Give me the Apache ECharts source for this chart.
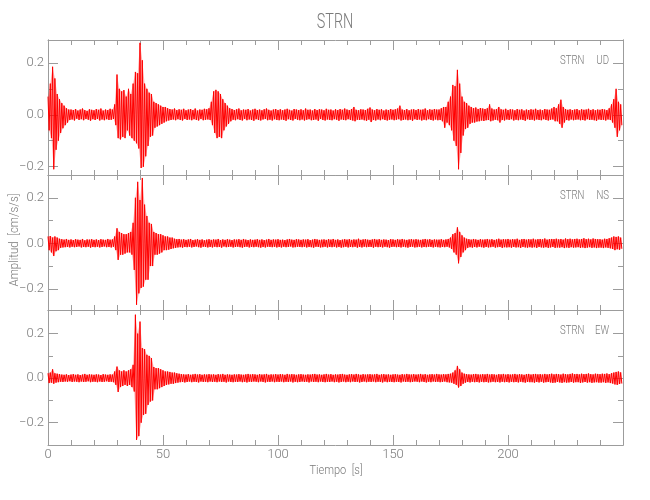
<!DOCTYPE html>
<html><head><meta charset="utf-8">
<script src="https://cdn.jsdelivr.net/npm/echarts@6/dist/echarts.min.js"></script>
<style>html,body{margin:0;padding:0;background:#fff}#c{width:650px;height:500px}</style>
</head><body><div id="c"></div>
<script>
// ---- DATA ----
// Envelope of each trace, one value per second (t = 0..249 s): upper excursion and lower excursion, cm/s/s
const UD_hi = [
.07,.12,.185,.14,.08,.06,.045,.035,.025,.02,
.02,.018,.022,.016,.02,.024,.018,.015,.021,.019,
.017,.022,.019,.024,.016,.02,.018,.023,.02,.04,
.155,.1,.09,.095,.07,.1,.08,.12,.165,.16,
.277,.21,.12,.1,.085,.08,.05,.045,.04,.035,
.03,.03,.025,.022,.02,.024,.018,.021,.019,.023,
.017,.02,.022,.018,.024,.016,.02,.019,.023,.021,
.025,.05,.09,.096,.09,.08,.06,.045,.035,.025,
.022,.018,.021,.024,.017,.02,.019,.022,.016,.02,
.023,.018,.02,.017,.021,.024,.019,.016,.02,.022,
.018,.021,.017,.02,.023,.019,.016,.022,.02,.018,
.021,.017,.024,.019,.02,.016,.022,.018,.021,.02,
.017,.023,.019,.02,.016,.021,.018,.022,.019,.024,
.02,.018,.022,.03,.019,.017,.021,.02,.018,.023,
.028,.02,.017,.022,.019,.021,.016,.02,.018,.022,
.019,.021,.024,.035,.02,.018,.022,.017,.02,.021,
.018,.022,.019,.02,.024,.017,.021,.019,.022,.02,
.02,.025,.03,.03,.05,.07,.115,.11,.173,.12,
.07,.05,.045,.035,.03,.025,.028,.022,.026,.024,
.022,.025,.04,.024,.02,.022,.03,.021,.019,.023,
.018,.021,.02,.017,.022,.019,.021,.016,.02,.018,
.021,.019,.023,.018,.02,.017,.022,.02,.019,.024,
.03,.025,.04,.058,.03,.022,.019,.021,.018,.02,
.022,.017,.021,.019,.02,.023,.018,.021,.017,.02,
.019,.022,.02,.018,.025,.04,.06,.1,.05,.04];
const UD_lo = [
-.06,-.09,-.21,-.135,-.1,-.07,-.052,-.04,-.03,-.02,
-.018,-.022,-.015,-.02,-.017,-.021,-.016,-.019,-.023,-.017,
-.02,-.016,-.022,-.018,-.021,-.017,-.02,-.019,-.016,-.04,
-.09,-.095,-.085,-.09,-.06,-.08,-.09,-.1,-.11,-.13,
-.205,-.2,-.16,-.12,-.085,-.08,-.05,-.045,-.04,-.035,
-.03,-.025,-.022,-.02,-.018,-.021,-.017,-.02,-.022,-.016,
-.02,-.018,-.021,-.017,-.02,-.022,-.016,-.021,-.019,-.018,
-.02,-.04,-.07,-.09,-.085,-.09,-.06,-.045,-.035,-.025,
-.019,-.021,-.017,-.02,-.022,-.016,-.021,-.018,-.02,-.023,
-.017,-.02,-.022,-.018,-.016,-.021,-.019,-.022,-.017,-.02,
-.021,-.018,-.02,-.023,-.017,-.02,-.022,-.016,-.019,-.021,
-.018,-.022,-.019,-.017,-.021,-.02,-.018,-.023,-.016,-.02,
-.022,-.018,-.02,-.021,-.017,-.019,-.023,-.018,-.02,-.021,
-.017,-.02,-.022,-.025,-.019,-.02,-.018,-.021,-.023,-.019,
-.028,-.02,-.022,-.018,-.021,-.017,-.02,-.022,-.019,-.018,
-.021,-.019,-.017,-.022,-.02,-.018,-.021,-.019,-.023,-.017,
-.02,-.018,-.022,-.019,-.021,-.017,-.02,-.022,-.018,-.021,
-.02,-.025,-.05,-.03,-.04,-.06,-.1,-.12,-.21,-.147,
-.08,-.055,-.05,-.035,-.03,-.03,-.026,-.025,-.022,-.024,
-.021,-.02,-.025,-.022,-.019,-.021,-.03,-.02,-.022,-.018,
-.02,-.017,-.022,-.019,-.021,-.018,-.02,-.023,-.017,-.02,
-.019,-.022,-.018,-.02,-.021,-.017,-.02,-.022,-.019,-.018,
-.025,-.025,-.035,-.05,-.03,-.02,-.022,-.018,-.021,-.019,
-.018,-.021,-.02,-.022,-.017,-.02,-.019,-.021,-.023,-.018,
-.02,-.019,-.022,-.018,-.02,-.03,-.05,-.085,-.06,-.04];
const NS_hi = [
.03,.032,.025,.03,.025,.02,.018,.016,.019,.015,
.017,.014,.018,.016,.015,.019,.013,.017,.016,.018,
.015,.017,.014,.018,.016,.015,.019,.016,.017,.03,
.066,.05,.045,.04,.04,.045,.05,.09,.2,.27,
.19,.287,.17,.12,.09,.085,.05,.045,.04,.04,
.035,.03,.03,.025,.025,.02,.018,.019,.016,.018,
.015,.017,.019,.014,.016,.018,.015,.017,.013,.016,
.018,.015,.017,.016,.019,.014,.017,.015,.018,.016,
.014,.017,.016,.018,.015,.019,.016,.014,.017,.015,
.016,.018,.015,.017,.014,.016,.019,.015,.017,.016,
.018,.015,.016,.014,.017,.019,.016,.015,.018,.017,
.015,.017,.016,.018,.014,.016,.019,.017,.015,.016,
.017,.015,.018,.016,.019,.015,.017,.014,.016,.018,
.016,.018,.015,.017,.016,.02,.015,.017,.018,.016,
.015,.017,.019,.016,.018,.015,.017,.016,.014,.018,
.017,.015,.018,.016,.019,.016,.015,.017,.018,.016,
.018,.016,.015,.017,.019,.016,.018,.015,.017,.016,
.016,.018,.015,.017,.019,.025,.04,.045,.07,.05,
.035,.025,.02,.018,.016,.019,.017,.015,.018,.016,
.017,.019,.016,.018,.015,.017,.02,.016,.018,.017,
.019,.016,.018,.017,.02,.015,.018,.019,.016,.018,
.017,.02,.016,.018,.019,.017,.021,.016,.018,.019,
.018,.02,.017,.019,.016,.021,.018,.02,.017,.019,
.02,.017,.019,.022,.018,.02,.017,.021,.019,.018,
.018,.016,.02,.019,.022,.025,.03,.028,.03,.025];
const NS_lo = [
-.03,-.04,-.056,-.035,-.03,-.02,-.018,-.017,-.016,-.018,
-.015,-.017,-.016,-.014,-.018,-.016,-.017,-.015,-.019,-.016,
-.017,-.015,-.018,-.016,-.014,-.017,-.016,-.018,-.015,-.03,
-.073,-.05,-.05,-.045,-.04,-.04,-.05,-.117,-.27,-.22,
-.196,-.19,-.16,-.16,-.1,-.1,-.05,-.05,-.045,-.04,
-.03,-.03,-.028,-.025,-.022,-.02,-.018,-.017,-.019,-.016,
-.017,-.015,-.018,-.016,-.014,-.017,-.019,-.015,-.016,-.018,
-.016,-.018,-.015,-.017,-.016,-.019,-.014,-.017,-.016,-.015,
-.018,-.016,-.015,-.017,-.019,-.016,-.015,-.018,-.016,-.017,
-.015,-.017,-.019,-.016,-.018,-.015,-.016,-.017,-.015,-.018,
-.016,-.018,-.015,-.017,-.016,-.014,-.018,-.017,-.015,-.016,
-.017,-.015,-.018,-.016,-.017,-.019,-.015,-.016,-.018,-.017,
-.015,-.018,-.016,-.017,-.015,-.018,-.016,-.019,-.017,-.015,
-.018,-.016,-.017,-.015,-.019,-.016,-.018,-.015,-.017,-.016,
-.016,-.019,-.015,-.017,-.016,-.018,-.015,-.017,-.019,-.016,
-.015,-.017,-.016,-.018,-.015,-.017,-.019,-.016,-.015,-.018,
-.017,-.015,-.018,-.016,-.017,-.015,-.016,-.018,-.015,-.017,
-.018,-.016,-.017,-.015,-.018,-.025,-.04,-.05,-.088,-.06,
-.04,-.03,-.02,-.017,-.019,-.016,-.018,-.015,-.017,-.019,
-.016,-.018,-.017,-.015,-.019,-.017,-.016,-.02,-.017,-.018,
-.017,-.019,-.016,-.018,-.017,-.02,-.016,-.018,-.019,-.017,
-.019,-.017,-.02,-.016,-.018,-.019,-.017,-.02,-.018,-.016,
-.02,-.018,-.019,-.017,-.021,-.018,-.02,-.017,-.019,-.018,
-.017,-.02,-.018,-.021,-.019,-.017,-.02,-.018,-.021,-.019,
-.019,-.021,-.018,-.02,-.022,-.025,-.03,-.026,-.028,-.024];
const EW_hi = [
.022,.025,.04,.022,.02,.018,.016,.015,.017,.014,
.016,.018,.015,.017,.014,.016,.019,.015,.017,.016,
.015,.017,.016,.014,.018,.016,.015,.017,.016,.03,
.052,.035,.03,.035,.03,.035,.04,.06,.285,.2,
.254,.135,.13,.105,.1,.09,.05,.045,.045,.04,
.035,.03,.03,.028,.025,.025,.022,.02,.018,.017,
.016,.018,.015,.017,.019,.016,.018,.015,.017,.016,
.018,.016,.017,.015,.018,.016,.019,.015,.017,.016,
.015,.017,.016,.018,.016,.015,.017,.019,.016,.018,
.017,.015,.018,.016,.017,.019,.015,.017,.016,.018,
.016,.018,.017,.015,.019,.016,.018,.017,.015,.017,
.018,.016,.015,.017,.016,.018,.019,.016,.017,.015,
.017,.019,.016,.018,.015,.017,.016,.018,.019,.016,
.015,.017,.018,.016,.019,.017,.015,.018,.016,.017,
.018,.016,.017,.019,.015,.017,.018,.016,.017,.015,
.017,.018,.016,.015,.018,.016,.019,.017,.016,.018,
.016,.017,.019,.016,.018,.015,.017,.018,.016,.019,
.017,.016,.018,.017,.019,.02,.025,.035,.055,.04,
.025,.02,.018,.017,.016,.018,.019,.017,.016,.018,
.017,.019,.016,.018,.017,.015,.018,.017,.019,.016,
.018,.016,.017,.019,.016,.018,.017,.015,.018,.019,
.016,.018,.019,.017,.018,.016,.019,.017,.018,.02,
.017,.019,.018,.016,.02,.018,.017,.019,.021,.018,
.019,.017,.02,.018,.019,.021,.018,.017,.02,.019,
.018,.02,.019,.021,.018,.022,.025,.028,.03,.026];
const EW_lo = [
-.022,-.02,-.025,-.02,-.018,-.016,-.017,-.015,-.016,-.014,
-.017,-.015,-.016,-.018,-.015,-.017,-.016,-.014,-.018,-.016,
-.016,-.018,-.015,-.017,-.016,-.014,-.017,-.016,-.018,-.03,
-.062,-.04,-.035,-.03,-.035,-.03,-.04,-.06,-.277,-.26,
-.2,-.165,-.16,-.12,-.105,-.1,-.05,-.05,-.045,-.04,
-.035,-.03,-.028,-.025,-.025,-.022,-.02,-.018,-.017,-.019,
-.017,-.015,-.018,-.016,-.017,-.019,-.015,-.017,-.016,-.018,
-.015,-.017,-.016,-.018,-.015,-.017,-.016,-.019,-.015,-.017,
-.018,-.016,-.017,-.015,-.018,-.016,-.019,-.016,-.017,-.015,
-.016,-.018,-.015,-.017,-.019,-.016,-.017,-.015,-.018,-.016,
-.017,-.015,-.018,-.016,-.017,-.015,-.019,-.016,-.018,-.017,
-.015,-.017,-.016,-.019,-.015,-.017,-.016,-.018,-.015,-.017,
-.018,-.016,-.017,-.015,-.018,-.016,-.019,-.017,-.015,-.018,
-.016,-.018,-.015,-.017,-.016,-.019,-.017,-.015,-.018,-.016,
-.017,-.015,-.018,-.016,-.017,-.019,-.015,-.018,-.016,-.017,
-.018,-.016,-.017,-.019,-.015,-.017,-.016,-.018,-.017,-.015,
-.016,-.018,-.015,-.017,-.019,-.016,-.018,-.015,-.017,-.016,
-.018,-.017,-.015,-.018,-.019,-.02,-.025,-.03,-.042,-.035,
-.025,-.02,-.017,-.019,-.016,-.018,-.017,-.019,-.016,-.018,
-.017,-.019,-.018,-.016,-.018,-.017,-.019,-.016,-.018,-.017,
-.019,-.016,-.018,-.017,-.019,-.016,-.018,-.02,-.017,-.018,
-.018,-.02,-.017,-.019,-.016,-.02,-.018,-.017,-.019,-.021,
-.02,-.017,-.019,-.021,-.018,-.02,-.019,-.017,-.02,-.018,
-.018,-.021,-.019,-.017,-.02,-.018,-.021,-.019,-.018,-.02,
-.02,-.018,-.021,-.019,-.022,-.024,-.028,-.03,-.026,-.024];

const stationName = 'STRN';
const components = ['UD', 'NS', 'EW'];
const traces = [[UD_hi, UD_lo], [NS_hi, NS_lo], [EW_hi, EW_lo]];
const yRanges = [[-0.232, 0.288], [-0.293, 0.300], [-0.300, 0.306]];
const xRange = [0, 250];
const xTickStep = 50;
const xTickLabels = [0, 50, 100, 150, 200];
const yMajorTicks = [-0.2, 0, 0.2];
const yMinorTicks = [-0.1, 0.1];
const titleText = 'STRN';
const xName = 'Tiempo  [s]';
const yName = 'Amplitud  [cm/s/s]';

// ---- STYLE / LAYOUT ----
const AX = '#9c9c9c', TX = '#7a7a7a';
const FF = "Roboto, 'Noto Sans', sans-serif";
const FW = 300;
const G_LEFT = 48, G_W = 575, G_H = 135, G_TOPS = [40, 175, 310];
const RED = '#ff0000';

const grid = [], xAxis = [], yAxis = [], series = [];
const lineStyle = {color: AX, width: 1};

components.forEach((comp, g) => {
  grid.push({left: G_LEFT, top: G_TOPS[g], width: G_W, height: G_H, containLabel: false});
  ['bottom', 'top'].forEach(pos => {
    const showLab = (g === 2 && pos === 'bottom');
    xAxis.push({
      type: 'value', gridIndex: g, position: pos, min: xRange[0], max: xRange[1], interval: xTickStep,
      axisLine: {show: true, onZero: false, lineStyle},
      axisTick: {show: true, inside: true, length: 10, lineStyle},
      minorTick: {show: true, splitNumber: 5, length: 5, lineStyle},
      splitLine: {show: false}, minorSplitLine: {show: false},
      axisLabel: showLab ? {show: true, customValues: xTickLabels, margin: 3, color: TX, fontSize: 13, fontWeight: FW, fontFamily: FF} : {show: false}
    });
  });
  const r = yRanges[g];
  const mk = (pos, ticks, len, lab) => ({
    type: 'value', gridIndex: g, position: pos, min: r[0], max: r[1],
    axisLine: {show: true, onZero: false, lineStyle},
    axisTick: {show: true, inside: true, length: len, customValues: ticks, lineStyle},
    splitLine: {show: false},
    axisLabel: lab ? {show: true, customValues: ticks, margin: 4, color: TX, fontSize: 13, fontWeight: FW, fontFamily: FF,
      formatter: v => (v < 0 ? '\u2212' : '') + Math.abs(v).toFixed(1)} : {show: false}
  });
  yAxis.push(mk('left', yMajorTicks, 10, true));
  yAxis.push(mk('left', yMinorTicks, 5, false));
  yAxis.push(mk('right', yMajorTicks, 10, false));
  yAxis.push(mk('right', yMinorTicks, 5, false));

  const [hi, lo] = traces[g];
  const zig = [], upper = [], lower = [];
  for (let i = 0; i < hi.length; i++) {
    zig.push([i, hi[i]]);
    zig.push([i + 0.5, lo[i]]);
    upper.push([i, hi[i]]);
    lower.push([i + 0.5, lo[i]]);
  }
  const area = d => ({
    type: 'line', xAxisIndex: g * 2, yAxisIndex: g * 4, data: d, symbol: 'none', showSymbol: false,
    lineStyle: {width: 0, color: RED}, areaStyle: {color: RED, opacity: 0.3, origin: 0},
    silent: true, clip: true
  });
  series.push(area(upper));
  series.push(area(lower));
  series.push({
    type: 'line', xAxisIndex: g * 2, yAxisIndex: g * 4, data: zig, symbol: 'none', showSymbol: false,
    lineStyle: {color: RED, width: 1}, silent: true, clip: true
  });
});

const txt = (x, y, text, size, align, sx, rot) => ({
  type: 'text', x, y, rotation: rot || 0, scaleX: sx, scaleY: 1,
  style: {text, fill: TX, font: FW + ' ' + size + 'px ' + FF, textAlign: align, textVerticalAlign: 'middle'}
});
const graphic = [
  txt(335, 23, titleText, 20, 'center', 0.72),
  txt(336, 471, xName, 13, 'center', 0.85),
  txt(15, 240, yName, 13, 'center', 0.88, Math.PI / 2)
];
const labelY = [61, 196, 331];
components.forEach((comp, g) => {
  graphic.push(txt(560, labelY[g], stationName, 13, 'left', 0.74));
  graphic.push(txt(609, labelY[g], comp, 13, 'right', 0.74));
});

const chart = echarts.init(document.getElementById('c'), null, {renderer: 'canvas'});
chart.setOption({animation: false, backgroundColor: '#fff', grid, xAxis, yAxis, series, graphic});
</script></body></html>
